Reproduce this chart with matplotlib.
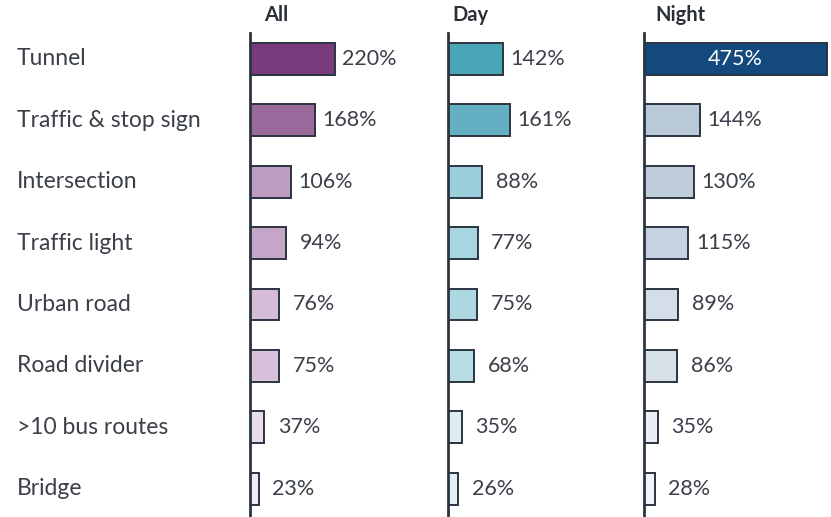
import matplotlib
matplotlib.use("Agg")
import matplotlib.pyplot as plt

plt.rcParams["font.family"] = ["Lato", "DejaVu Sans"]

categories = ["Tunnel", "Traffic & stop sign", "Intersection", "Traffic light",
              "Urban road", "Road divider", ">10 bus routes", "Bridge"]
panels = ["All", "Day", "Night"]
all_vals = [220, 168, 106, 94, 76, 75, 37, 23]
day_vals = [142, 161, 88, 77, 75, 68, 35, 26]
night_vals = [475, 144, 130, 115, 89, 86, 35, 28]

# fill colours per bar (style only)
all_colors = ["#7A3A7E", "#9A6A9C", "#BE9DC2", "#C5A6C9",
              "#D5BDD8", "#D7C1DA", "#EADDEB", "#F3EAF3"]
day_colors = ["#48A6B8", "#62B0C1", "#9ACFDB", "#A7D6E0",
              "#ADD8E1", "#B9DDE5", "#DDEEF2", "#E4F1F4"]
night_colors = ["#14497D", "#B9C9D9", "#BFCDDB", "#C6D2DF",
                "#D5DEE8", "#D8E0EA", "#EBEFF5", "#F0F3F7"]

W, H = 831, 517
dark = "#2B3440"
text_col = "#3A3F48"
scale = 0.386  # px per percent
fig = plt.figure(figsize=(W / 100, H / 100), dpi=100)

lefts = [250, 448, 644]
header_x = [264, 452, 655]
top = 33
width = 190
series = [all_vals, day_vals, night_vals]
colors = [all_colors, day_colors, night_colors]
ypos = list(range(len(categories)))

for k, (name, vals, cols) in enumerate(zip(panels, series, colors)):
    ax = fig.add_axes([lefts[k] / W, 0, width / W, 1 - top / H])
    ax.barh(ypos, vals, height=0.52, color=cols, edgecolor=dark,
            linewidth=1.4, zorder=2)
    ax.set_xlim(0, width / scale)
    ax.set_ylim(7.46, -0.42)
    for s in ["top", "right", "bottom"]:
        ax.spines[s].set_visible(False)
    ax.spines["left"].set_linewidth(2.0)
    ax.spines["left"].set_color(dark)
    ax.spines["left"].set_zorder(3)
    ax.set_xticks([])
    ax.set_yticks([])
    ax.patch.set_alpha(0)
    for i, v in enumerate(vals):
        if v > 400:
            ax.text(v / 2, i, f"{v}%", ha="center", va="center",
                    color="white", fontsize=15.5)
        else:
            ax.annotate(f"{v}%", (v, i), xytext=(25, 0),
                        textcoords="offset points", ha="center", va="center",
                        color=text_col, fontsize=15.5)
    fig.text(header_x[k] / W, 1 - 15 / H, name, ha="left", va="center",
             fontsize=14.5, fontweight="bold", color="#2B2F36")
    if k == 0:
        for i, c in enumerate(categories):
            ax.annotate(c, (0, i), xycoords=("figure fraction", "data"),
                        xytext=(17 / W, 0), textcoords=("figure fraction", "offset points"),
                        ha="left", va="center", fontsize=16.5, color=text_col)

fig.savefig("out.png", dpi=100)
